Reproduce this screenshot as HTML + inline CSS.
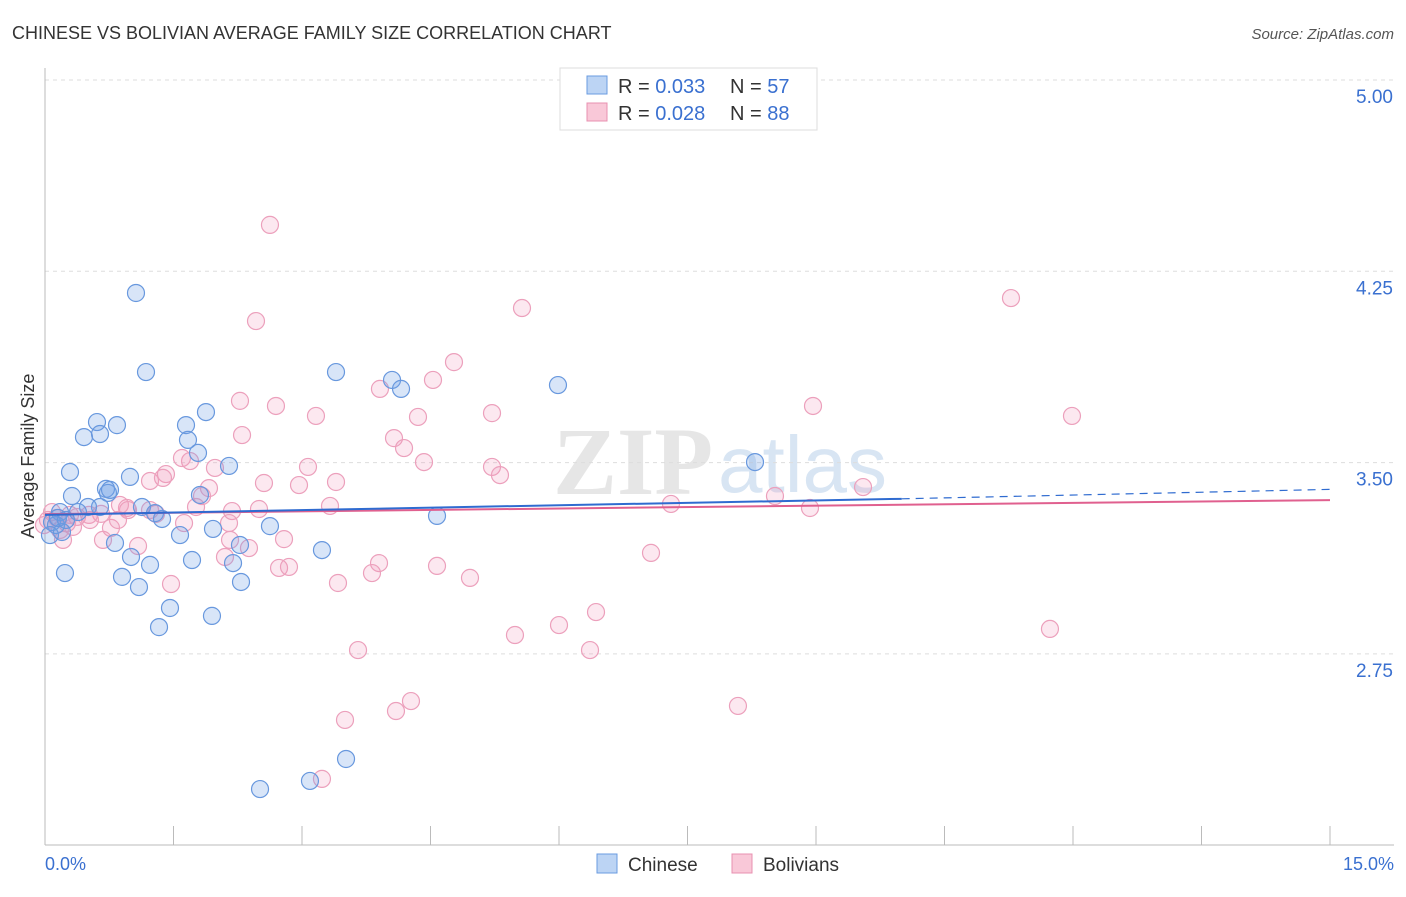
<!DOCTYPE html>
<html><head><meta charset="utf-8"><style>
body{margin:0;background:#fff;font-family:"Liberation Sans",sans-serif;}
</style></head><body>
<svg id="chart" width="1406" height="892" xmlns="http://www.w3.org/2000/svg" font-family="Liberation Sans, sans-serif">
<text x="12" y="39" font-size="18" fill="#333">CHINESE VS BOLIVIAN AVERAGE FAMILY SIZE CORRELATION CHART</text>
<text x="1394" y="39" font-size="15" fill="#555" font-style="italic" text-anchor="end">Source: ZipAtlas.com</text>
<text x="553" y="494" font-size="96" fill="#e6e6e6" font-weight="bold" font-family="Liberation Serif, serif">ZIP</text>
<text x="718" y="492" font-size="80" fill="#d8e5f3">atlas</text>
<g id="grid"></g><g id="axes"></g><g id="pts"></g><g id="lines"></g>
<text transform="translate(34,456) rotate(-90)" font-size="18" fill="#333" text-anchor="middle">Average Family Size</text>
<text x="45" y="870" font-size="18" fill="#3a70d0">0.0%</text>
<text x="1394" y="870" font-size="18" fill="#3a70d0" text-anchor="end">15.0%</text>
<g>
<rect x="560" y="68" width="257" height="62" fill="#fff" stroke="#ddd"/>
<rect x="587" y="76" width="20" height="18" fill="#bcd4f4" stroke="#6a9be0"/>
<text x="618" y="93" font-size="20" fill="#333">R = <tspan fill="#3a70d0">0.033</tspan></text>
<text x="730" y="93" font-size="20" fill="#333">N = <tspan fill="#3a70d0">57</tspan></text>
<rect x="587" y="103" width="20" height="18" fill="#f9c8d8" stroke="#e890b0"/>
<text x="618" y="120" font-size="20" fill="#333">R = <tspan fill="#3a70d0">0.028</tspan></text>
<text x="730" y="120" font-size="20" fill="#333">N = <tspan fill="#3a70d0">88</tspan></text>
</g>
<g>
<rect x="597" y="854" width="20" height="19" fill="#bcd4f4" stroke="#6a9be0"/>
<text x="628" y="871" font-size="19" fill="#333">Chinese</text>
<rect x="732" y="854" width="20" height="19" fill="#f9c8d8" stroke="#e890b0"/>
<text x="763" y="871" font-size="19" fill="#333">Bolivians</text>
</g>
</svg>
<script>
const yTicks=[5.00,4.25,3.50,2.75];
const xTickVals=[0,1.5,3,4.5,6,7.5,9,10.5,12,13.5,15];
const bluePx=[[136,293],[146,372],[97,422],[117,425],[84,437],[100,434],[186,425],[206,412],[188,440],[198,453],[229,466],[70,472],[130,477],[106,489],[108,493],[72,496],[100,507],[88,507],[78,512],[60,512],[142,507],[155,513],[162,519],[52,522],[56,525],[50,535],[62,532],[115,543],[180,535],[213,529],[270,526],[240,545],[322,550],[131,557],[150,565],[192,560],[233,563],[65,573],[122,577],[139,587],[241,582],[170,608],[212,616],[159,627],[336,372],[392,380],[401,389],[558,385],[755,462],[437,516],[260,789],[310,781],[346,759],[58,518],[200,495],[110,490],[66,520]];
const pinkPx=[[270,225],[256,321],[522,308],[1011,298],[454,362],[433,380],[380,389],[240,401],[276,406],[316,416],[418,417],[492,413],[813,406],[1072,416],[242,435],[394,438],[404,448],[190,461],[215,468],[182,458],[166,474],[163,478],[150,481],[209,488],[308,467],[336,482],[264,483],[299,485],[424,462],[492,467],[500,475],[202,496],[196,507],[232,511],[259,509],[330,506],[127,508],[128,510],[101,514],[89,515],[77,517],[57,518],[48,520],[67,523],[73,527],[63,540],[111,528],[103,540],[184,523],[229,523],[156,514],[138,546],[284,539],[249,548],[225,557],[671,504],[775,496],[810,508],[863,487],[651,553],[379,563],[372,573],[279,568],[289,567],[437,566],[470,578],[338,583],[171,584],[596,612],[559,625],[515,635],[590,650],[358,650],[1050,629],[738,706],[411,701],[396,711],[345,720],[322,779],[118,520],[90,520],[60,530],[150,510],[52,512],[70,515],[44,525],[120,505],[230,540]];
const chinese=bluePx.map(p=>[+((p[0]-45)/85.667).toFixed(3),+(5-(p[1]-80)/255.07).toFixed(3)]);
const bolivians=pinkPx.map(p=>[+((p[0]-45)/85.667).toFixed(3),+(5-(p[1]-80)/255.07).toFixed(3)]);
const blueTrend=[[0,3.295],[10,3.358],[15,3.395]];
const pinkTrend=[[0,3.298],[15,3.353]];
const X=v=>45+v/15*1285, Y=v=>80+(5-v)/0.75*191.3;
const NS='http://www.w3.org/2000/svg';
function mk(par,tag,at){const e=document.createElementNS(NS,tag);for(const k in at)e.setAttribute(k,at[k]);document.getElementById(par).appendChild(e);return e;}
yTicks.forEach(t=>{const l=mk('grid','line',{x1:45,x2:1394,y1:Y(t),y2:Y(t),stroke:'#ddd','stroke-dasharray':'4,4'});


const tx=mk('grid','text',{x:1393,y:Y(t)+23,'font-size':19,fill:'#3a70d0','text-anchor':'end'});tx.textContent=t.toFixed(2);

});
const ax=mk('axes','line',{x1:45,x2:45,y1:68,y2:845,stroke:'#bbb'});


const bx=mk('axes','line',{x1:45,x2:1394,y1:845,y2:845,stroke:'#bbb'});


xTickVals.forEach(v=>{const t=mk('axes','line',{x1:X(v),x2:X(v),y1:826,y2:845,stroke:'#bbb'});

});
bolivians.forEach(d=>{const c=mk('pts','circle',{cx:X(d[0]),cy:Y(d[1]),r:8.5,fill:'rgba(242,150,185,0.22)',stroke:'#eca0bc','stroke-width':1.2});

});
chinese.forEach(d=>{const c=mk('pts','circle',{cx:X(d[0]),cy:Y(d[1]),r:8.5,fill:'rgba(110,160,230,0.27)',stroke:'#6898de','stroke-width':1.2});

});
const pl=mk('lines','line',{x1:X(pinkTrend[0][0]),y1:Y(pinkTrend[0][1]),x2:X(pinkTrend[1][0]),y2:Y(pinkTrend[1][1]),stroke:'#e0608f','stroke-width':2});


const b1=mk('lines','line',{x1:X(blueTrend[0][0]),y1:Y(blueTrend[0][1]),x2:X(blueTrend[1][0]),y2:Y(blueTrend[1][1]),stroke:'#2f6bd0','stroke-width':2});


const b2=mk('lines','line',{x1:X(blueTrend[1][0]),y1:Y(blueTrend[1][1]),x2:X(blueTrend[2][0]),y2:Y(blueTrend[2][1]),stroke:'#2f6bd0','stroke-width':1.2,'stroke-dasharray':'8,6'});


</script>
</body></html>
